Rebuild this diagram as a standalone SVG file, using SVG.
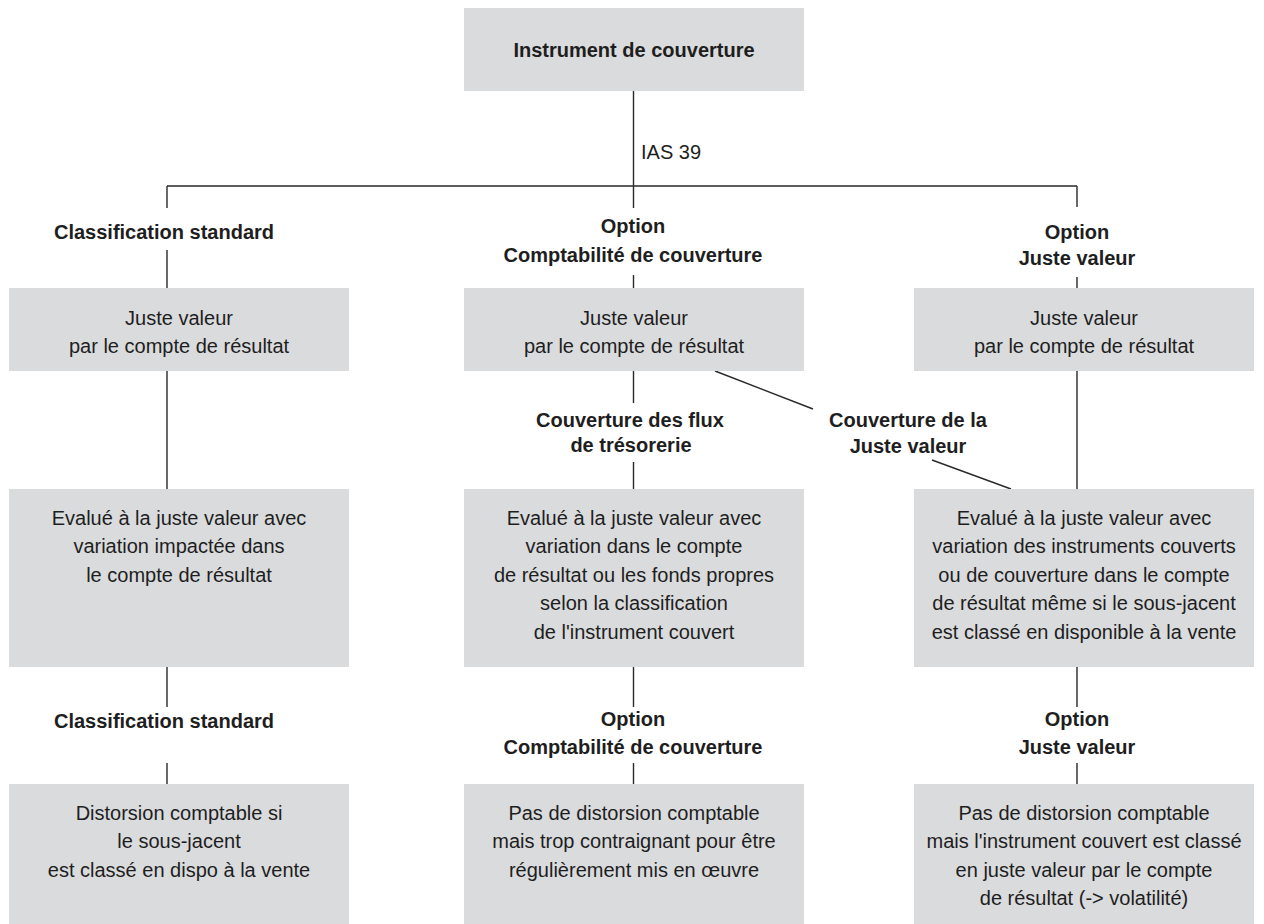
<svg xmlns="http://www.w3.org/2000/svg" width="1264" height="924" viewBox="0 0 1264 924">
<style>
.box{fill:#dadbdd}
.t{font-family:"Liberation Sans",Arial,sans-serif;font-size:20px;fill:#1e1e1e;text-anchor:middle}
.b{font-weight:bold}
.ln{stroke:#2a2a2a;stroke-width:1.4;fill:none}
</style>
<rect width="1264" height="924" fill="#ffffff"/>
<g id="connectors" class="ln">
<path d="M633.5 91V208M167 186H1077"/>
<path d="M167 186V208M167 250V288M167 371V489M167 667V707M167 763V784"/>
<path d="M633.5 275V288M633.5 371V403M633.5 462V489M633.5 667V707M633.5 763V784"/>
<path d="M1077 186V207M1077 277V288M1077 371V489M1077 667V707M1077 763V784"/>
<path d="M715 371L813 409M932 460L1011 489"/>
</g>
<g id="labels">
<text class="t" x="641" y="159" text-anchor="start" style="text-anchor:start">IAS 39</text>
<text class="t b" x="164" y="239">Classification standard</text>
<text class="t b" x="633" y="233">Option</text>
<text class="t b" x="633" y="262">Comptabilité de couverture</text>
<text class="t b" x="1077" y="239">Option</text>
<text class="t b" x="1077" y="265">Juste valeur</text>
<text class="t b" x="630" y="427">Couverture des flux</text>
<text class="t b" x="631" y="452">de trésorerie</text>
<text class="t b" x="908" y="427">Couverture de la</text>
<text class="t b" x="908" y="453">Juste valeur</text>
<text class="t b" x="164" y="728">Classification standard</text>
<text class="t b" x="633" y="726">Option</text>
<text class="t b" x="633" y="754">Comptabilité de couverture</text>
<text class="t b" x="1077" y="726">Option</text>
<text class="t b" x="1077" y="754">Juste valeur</text>
</g>
<g id="n-top">
<rect class="box" x="464" y="8" width="340" height="83"/>
<text class="t b" x="634" y="57">Instrument de couverture</text>
</g>
<g id="n-l1">
<rect class="box" x="9" y="288" width="340" height="83"/>
<text class="t" x="179" y="325">Juste valeur</text>
<text class="t" x="179" y="353">par le compte de résultat</text>
</g>
<g id="n-c1">
<rect class="box" x="464" y="288" width="340" height="83"/>
<text class="t" x="634" y="325">Juste valeur</text>
<text class="t" x="634" y="353">par le compte de résultat</text>
</g>
<g id="n-r1">
<rect class="box" x="914" y="288" width="340" height="83"/>
<text class="t" x="1084" y="325">Juste valeur</text>
<text class="t" x="1084" y="353">par le compte de résultat</text>
</g>
<g id="n-l2">
<rect class="box" x="9" y="489" width="340" height="178"/>
<text class="t" x="179" y="525">Evalué à la juste valeur avec</text>
<text class="t" x="179" y="553">variation impactée dans</text>
<text class="t" x="179" y="582">le compte de résultat</text>
</g>
<g id="n-c2">
<rect class="box" x="464" y="489" width="340" height="178"/>
<text class="t" x="634" y="525">Evalué à la juste valeur avec</text>
<text class="t" x="634" y="553">variation dans le compte</text>
<text class="t" x="634" y="582">de résultat ou les fonds propres</text>
<text class="t" x="634" y="610">selon la classification</text>
<text class="t" x="634" y="639">de l'instrument couvert</text>
</g>
<g id="n-r2">
<rect class="box" x="914" y="489" width="340" height="178"/>
<text class="t" x="1084" y="525">Evalué à la juste valeur avec</text>
<text class="t" x="1084" y="553">variation des instruments couverts</text>
<text class="t" x="1084" y="582">ou de couverture dans le compte</text>
<text class="t" x="1084" y="610">de résultat même si le sous-jacent</text>
<text class="t" x="1084" y="639">est classé en disponible à la vente</text>
</g>
<g id="n-l3">
<rect class="box" x="9" y="784" width="340" height="140"/>
<text class="t" x="179" y="820">Distorsion comptable si</text>
<text class="t" x="179" y="848">le sous-jacent</text>
<text class="t" x="179" y="877">est classé en dispo à la vente</text>
</g>
<g id="n-c3">
<rect class="box" x="464" y="784" width="340" height="140"/>
<text class="t" x="634" y="820">Pas de distorsion comptable</text>
<text class="t" x="634" y="848">mais trop contraignant pour être</text>
<text class="t" x="634" y="877">régulièrement mis en œuvre</text>
</g>
<g id="n-r3">
<rect class="box" x="914" y="784" width="340" height="140"/>
<text class="t" x="1084" y="820">Pas de distorsion comptable</text>
<text class="t" x="1084" y="848">mais l'instrument couvert est classé</text>
<text class="t" x="1084" y="877">en juste valeur par le compte</text>
<text class="t" x="1084" y="905">de résultat (-&gt; volatilité)</text>
</g>
</svg>
